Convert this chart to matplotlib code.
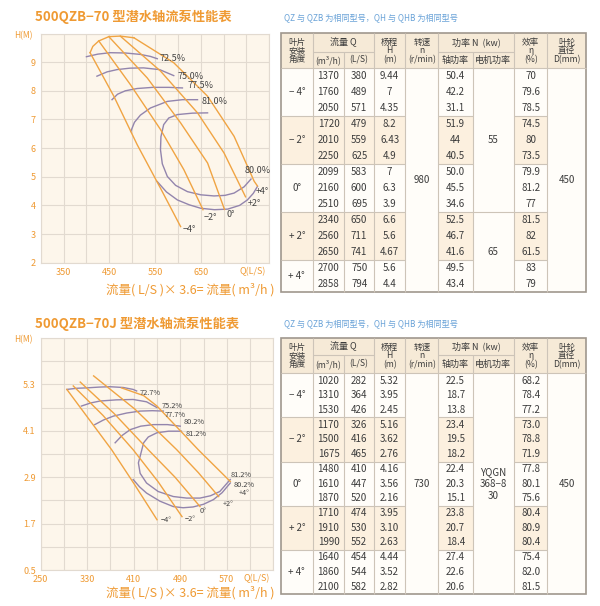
import matplotlib
matplotlib.use('Agg')
import matplotlib.pyplot as plt
from matplotlib.patches import Rectangle

plt.rcParams['font.family'] = ['Noto Sans CJK SC', 'DejaVu Sans']

orange = '#ef9a33'
lineor = '#f0a443'
purple = '#9385ad'
bg = '#fdf6eb'
gridc = '#e2dad0'
txtc = '#3c3c3c'
blue = '#6aa3d8'

# ---------------- 500QZB-70 (n=980) curves, Q in L/S, H in m ----------------
top_arch_q = [408, 414, 427, 449, 474, 504]
top_arch_h = [9.33, 9.55, 9.74, 9.89, 9.91, 9.85]
top_m4_q = [408, 460, 511, 562, 606]
top_m4_h = [9.33, 7.81, 6.12, 4.60, 3.26]
top_m2_q = [427, 496, 562, 613, 655]
top_m2_h = [9.74, 8.22, 6.65, 5.25, 3.85]
top_z0_q = [449, 533, 606, 665, 702]
top_z0_h = [9.89, 8.45, 6.88, 5.48, 3.86]
top_p2_q = [474, 562, 643, 701, 748]
top_p2_h = [9.91, 8.69, 7.23, 5.83, 4.30]
top_p4_q = [504, 591, 665, 723, 767, 774]
top_p4_h = [9.85, 8.98, 7.81, 6.41, 4.84, 4.68]

top_e725_q = [400, 425, 452, 485, 518, 540, 555]
top_e725_h = [9.19, 9.28, 9.33, 9.32, 9.27, 9.20, 9.12]
top_e750_q = [423, 445, 467, 495, 525, 560, 591]
top_e750_h = [8.51, 8.66, 8.74, 8.79, 8.80, 8.74, 8.53]
top_e775_q = [456, 468, 485, 511, 545, 580, 610]
top_e775_h = [7.69, 7.88, 8.00, 8.08, 8.12, 8.12, 8.10]
top_e810_q = [497, 505, 518, 540, 577, 610, 643]
top_e810_h = [6.58, 6.90, 7.15, 7.40, 7.63, 7.69, 7.69]
top_in_q = [665, 632, 599, 580, 569, 563, 562, 566, 577, 595, 621, 650, 679, 703, 723, 745, 760]
top_in_h = [7.23, 7.22, 7.17, 7.05, 6.82, 6.40, 5.94, 5.45, 5.01, 4.70, 4.48, 4.37, 4.33, 4.35, 4.43, 4.65, 4.92]
top_out_q = [555, 575, 599, 625, 650, 680, 709, 735, 752, 765, 774]
top_out_h = [4.83, 4.47, 4.19, 4.02, 3.90, 3.85, 3.87, 4.00, 4.19, 4.42, 4.66]

top_ang_lbl = ['\u22124°', '\u22122°', '0°', '+2°', '+4°']
top_eff_lbl = ['72.5%', '75.0%', '77.5%', '81.0%', '80.0%']

# ---------------- 500QZB-70J (n=730) curves ----------------
bot_m4_q = [295, 333, 372, 411, 450]
bot_m4_h = [5.17, 4.40, 3.61, 2.72, 1.80]
bot_m2_q = [306, 357, 409, 452, 493]
bot_m2_h = [5.26, 4.50, 3.61, 2.78, 1.88]
bot_z0_q = [318, 376, 435, 481, 524]
bot_z0_h = [5.36, 4.55, 3.61, 2.90, 2.14]
bot_p2_q = [341, 412, 484, 521, 556]
bot_p2_h = [5.52, 4.66, 3.61, 3.02, 2.40]
bot_p4_q = [389, 427, 450, 521, 576]
bot_p4_h = [5.21, 5.01, 4.74, 3.61, 2.79]

bot_e727_q = [295, 312, 329, 350, 369, 392, 409, 415]
bot_e727_h = [5.17, 5.20, 5.21, 5.23, 5.24, 5.22, 5.17, 5.13]
bot_e752_q = [320, 336, 352, 380, 409, 432, 450]
bot_e752_h = [4.74, 4.82, 4.87, 4.90, 4.91, 4.85, 4.70]
bot_e777_q = [343, 358, 375, 398, 421, 442, 461]
bot_e777_h = [4.26, 4.38, 4.48, 4.56, 4.61, 4.62, 4.61]
bot_e802_q = [378, 390, 404, 422, 444, 468, 490]
bot_e802_h = [3.79, 3.98, 4.13, 4.22, 4.26, 4.26, 4.22]
bot_in_q = [492, 470, 450, 435, 427, 421, 418, 421, 432, 452, 478, 501, 524, 542, 558, 576]
bot_in_h = [4.09, 4.09, 4.05, 3.94, 3.79, 3.44, 3.27, 3.00, 2.75, 2.53, 2.40, 2.36, 2.36, 2.42, 2.53, 2.84]
bot_out_q = [409, 420, 432, 455, 478, 495, 512, 530, 547, 562, 576]
bot_out_h = [2.84, 2.65, 2.49, 2.28, 2.14, 2.11, 2.13, 2.20, 2.32, 2.50, 2.75]

bot_ang_lbl = ['\u22124°', '\u22122°', '0°', '+2°', '+4°']
bot_eff_lbl = ['72.7%', '75.2%', '77.7%', '80.2%', '81.2%', '81.2%', '80.2%']

# ---------------- tables ----------------
tbl_angles = ['\u2212 4°', '\u2212 2°', '0°', '+ 2°', '+ 4°']

t1_groups = [3, 3, 3, 3, 2]
t1_qm3 = ['1370', '1760', '2050', '1720', '2010', '2250', '2099', '2160', '2510', '2340', '2560', '2650', '2700', '2858']
t1_qls = ['380', '489', '571', '479', '559', '625', '583', '600', '695', '650', '711', '741', '750', '794']
t1_head = ['9.44', '7', '4.35', '8.2', '6.43', '4.9', '7', '6.3', '3.9', '6.6', '5.6', '4.67', '5.6', '4.4']
t1_shaft = ['50.4', '42.2', '31.1', '51.9', '44', '40.5', '50.0', '45.5', '34.6', '52.5', '46.7', '41.6', '49.5', '43.4']
t1_eff = ['70', '79.6', '78.5', '74.5', '80', '73.5', '79.9', '81.2', '77', '81.5', '82', '61.5', '83', '79']
t1_speed = '980'
t1_motor = ['55', '65']
t1_motor_rows = [9, 5]
t1_diam = '450'

t2_groups = [3, 3, 3, 3, 3]
t2_qm3 = ['1020', '1310', '1530', '1170', '1500', '1675', '1480', '1610', '1870', '1710', '1910', '1990', '1640', '1860', '2100']
t2_qls = ['282', '364', '426', '326', '416', '465', '410', '447', '520', '474', '530', '552', '454', '544', '582']
t2_head = ['5.32', '3.95', '2.45', '5.16', '3.62', '2.76', '4.16', '3.56', '2.16', '3.95', '3.10', '2.63', '4.44', '3.52', '2.82']
t2_shaft = ['22.5', '18.7', '13.8', '23.4', '19.5', '18.2', '22.4', '20.3', '15.1', '23.8', '20.7', '18.4', '27.4', '22.6', '20.6']
t2_eff = ['68.2', '78.4', '77.2', '73.0', '78.8', '71.9', '77.8', '80.1', '75.6', '80.4', '80.9', '80.4', '75.4', '82.0', '81.5']
t2_speed = '730'
t2_motor = ['YQGN\n368\u22128\n30']
t2_motor_rows = [15]
t2_diam = '450'

fig = plt.figure(figsize=(6.0, 6.06), dpi=100)
ov = fig.add_axes([0, 0, 1, 1])
ov.set_xlim(0, 600)
ov.set_ylim(606, 0)
ov.axis('off')


def px_axes(l, t, r, b):
    return fig.add_axes([l/600, 1-b/606, (r-l)/600, (b-t)/606])


def setup_chart(ax, xgrid, xlbls, ygrid, ylbls):
    ax.set_facecolor(bg)
    ax.set_xlim(xgrid[0], xgrid[-1])
    ax.set_ylim(ygrid[0], ygrid[-1])
    ax.set_xticks(xgrid)
    ax.set_xticklabels(xlbls)
    ax.set_yticks(ygrid)
    ax.set_yticklabels(ylbls)
    ax.grid(True, color=gridc, lw=0.8)
    ax.set_axisbelow(True)
    ax.tick_params(length=0, labelcolor=orange, labelsize=6.5, pad=3.5)
    for s in ax.spines.values():
        s.set_color(gridc)
        s.set_linewidth(0.8)
    ax.annotate('Q(L/S)', xy=(1, 0), xycoords='axes fraction', xytext=(-3, -9),
                textcoords='offset pixels', ha='right', va='center', color=orange, fontsize=6.5)
    ax.annotate('H(M)', xy=(0, 1), xycoords='axes fraction', xytext=(-8, -2),
                textcoords='offset pixels', ha='right', va='center', color=orange, fontsize=6)


def lbl_at(ax, txt, q, h, dx, dy, fs):
    ax.annotate(txt, xy=(q, h), xytext=(dx, dy), textcoords='offset pixels',
                ha='left', va='center', fontsize=fs, color='#444444')


# ---------------- top chart ----------------
ax1 = px_axes(40.7, 33.5, 269.3, 262.7)
xg = list(range(300, 801, 50))
setup_chart(ax1, xg, ['', '350', '', '450', '', '550', '', '650', '', '', ''],
            list(range(2, 11)), ['2', '3', '4', '5', '6', '7', '8', '9', ''])
for q, h in [(top_e725_q, top_e725_h), (top_e750_q, top_e750_h), (top_e775_q, top_e775_h),
             (top_e810_q, top_e810_h), (top_in_q, top_in_h), (top_out_q, top_out_h)]:
    ax1.plot(q, h, color=purple, lw=1.0)
top_lines = [(top_m4_q, top_m4_h), (top_m2_q, top_m2_h), (top_z0_q, top_z0_h),
             (top_p2_q, top_p2_h), (top_p4_q, top_p4_h)]
ax1.plot(top_arch_q, top_arch_h, color=lineor, lw=1.0)
for q, h in top_lines:
    ax1.plot(q, h, color=lineor, lw=1.0)
ang_off = [(2, -3), (1, -8), (2, -5), (2, -7), (-2, -6)]
for (q, h), t, (dx, dy) in zip(top_lines, top_ang_lbl, ang_off):
    lbl_at(ax1, t, q[-1], h[-1], dx, dy, 6.5)
eff_ends = [(top_e725_q, top_e725_h), (top_e750_q, top_e750_h), (top_e775_q, top_e775_h),
            (top_e810_q, top_e810_h), (top_in_q, top_in_h)]
eff_off = [(2, 0), (4, -1), (5, 2), (4, -2), (-6, 9)]
for (q, h), t, (dx, dy) in zip(eff_ends, top_eff_lbl, eff_off):
    lbl_at(ax1, t, q[-1], h[-1], dx, dy, 6.5)

# ---------------- bottom chart ----------------
ax2 = px_axes(40.7, 338, 273.3, 570)
xg = list(range(250, 651, 40))
setup_chart(ax2, xg, ['250', '', '330', '', '410', '', '490', '', '570', '', ''],
            [0.5 + 0.6*i for i in range(11)],
            ['0.5', '', '1.7', '', '2.9', '', '4.1', '', '5.3', '', ''])
for q, h in [(bot_e727_q, bot_e727_h), (bot_e752_q, bot_e752_h), (bot_e777_q, bot_e777_h),
             (bot_e802_q, bot_e802_h), (bot_in_q, bot_in_h), (bot_out_q, bot_out_h)]:
    ax2.plot(q, h, color=purple, lw=1.0)
bot_lines = [(bot_m4_q, bot_m4_h), (bot_m2_q, bot_m2_h), (bot_z0_q, bot_z0_h),
             (bot_p2_q, bot_p2_h), (bot_p4_q, bot_p4_h)]
for q, h in bot_lines:
    ax2.plot(q, h, color=lineor, lw=1.0)
ang_off = [(4, 0), (3, -2), (0, -4), (4, -7), (8, -12)]
for (q, h), t, (dx, dy) in zip(bot_lines, bot_ang_lbl, ang_off):
    lbl_at(ax2, t, q[-1], h[-1], dx, dy, 5.3)
eff_pts = [(bot_e727_q[-1], bot_e727_h[-1]), (bot_e752_q[-1], bot_e752_h[-1]),
           (bot_e777_q[-1], bot_e777_h[-1]), (bot_e802_q[-1], bot_e802_h[-1]),
           (bot_in_q[0], bot_in_h[0]), (bot_in_q[-1], bot_in_h[-1]), (bot_out_q[-1], bot_out_h[-1])]
eff_off = [(3, -2), (5, 2), (1, -4), (3, 4), (4, -3), (0, 5), (3, -2)]
for (q, h), t, (dx, dy) in zip(eff_pts, bot_eff_lbl, eff_off):
    lbl_at(ax2, t, q, h, dx, dy, 5.3)

# ---------------- titles, notes, axis captions ----------------
ov.text(35, 17, '500QZB\u221270 型潜水轴流泵性能表', color=orange, fontsize=9.5,
        fontweight='bold', va='center', ha='left')
ov.text(35, 324, '500QZB\u221270J 型潜水轴流泵性能表', color=orange, fontsize=9.5,
        fontweight='bold', va='center', ha='left')
for yy in (18, 324):
    ov.text(284, yy, 'QZ 与 QZB 为相同型号，QH 与 QHB 为相同型号', color=blue,
            fontsize=5.9, va='center', ha='left')
for yy in (290, 593):
    ov.text(190, yy, '流量( L/S )× 3.6= 流量( m³/h )', color=orange, fontsize=9,
            va='center', ha='center')
for i, t in enumerate(['500QZB\u221270', 'n=980r/min', 'D=450mm']):
    ov.text(210, 48 + 12.5*i, t, color=orange, fontsize=7.2, va='center', ha='left')
for i, t in enumerate(['500QZB\u221270J', 'n=730r/min', 'D=450mm']):
    ov.text(211.7, 348.3 + 12.2*i, t, color=orange, fontsize=7.2, va='center', ha='left')

# ---------------- tables ----------------
cx = [281, 312.7, 344.3, 374, 405.3, 438.3, 472.7, 514, 547.3, 586]
inner = '#cdc4b8'
outer = '#9f978d'


def hline(y, x0, x1, c=inner, lw=0.8):
    ov.plot([x0, x1], [y, y], color=c, lw=lw, solid_capstyle='butt')


def vline(x, y0, y1, c=inner, lw=0.8):
    ov.plot([x, x], [y0, y1], color=c, lw=lw, solid_capstyle='butt')


def ctext(x, y, t, fs=7, ls=1.1):
    ov.text(x, y, t, ha='center', va='center', fontsize=fs, color=txtc, linespacing=ls)


def draw_table(top, mid, hb, rh, groups, qm3, qls, head, shaft, eff, speed, motor, motor_rows, diam):
    n = sum(groups)
    bot = hb + n*rh
    ov.add_patch(Rectangle((cx[0], top), cx[-1]-cx[0], bot-top, fc='#fffdf9', ec='none'))
    ov.add_patch(Rectangle((cx[0], top), cx[-1]-cx[0], hb-top, fc='#f6ead7', ec='none'))
    # shading of alternate groups
    r0 = 0
    bounds = []
    for gi, g in enumerate(groups):
        y0 = hb + r0*rh
        y1 = hb + (r0+g)*rh
        if gi % 2 == 1:
            for c in [0, 1, 2, 3, 5, 7]:
                ov.add_patch(Rectangle((cx[c], y0), cx[c+1]-cx[c], y1-y0, fc='#fcf0df', ec='none'))
        ctext((cx[0]+cx[1])/2, (y0+y1)/2, tbl_angles[gi], fs=7)
        r0 += g
        bounds.append(r0)
    # motor boundaries
    mb = []
    acc = 0
    for k in motor_rows:
        acc += k
        mb.append(acc)
    for b in bounds[:-1]:
        y = hb + b*rh
        hline(y, cx[0], cx[4])
        hline(y, cx[5], cx[6])
        hline(y, cx[7], cx[8])
        if b in mb:
            hline(y, cx[6], cx[7])
    hline(hb, cx[0], cx[-1])
    hline(mid, cx[1], cx[3])
    hline(mid, cx[5], cx[7])
    for k in [1, 3, 4, 5, 7, 8]:
        vline(cx[k], top, bot)
    for k in [2, 6]:
        vline(cx[k], mid, bot)
    ov.add_patch(Rectangle((cx[0], top), cx[-1]-cx[0], bot-top, fc='none', ec=outer, lw=1.2))
    # header texts
    hc = (top+hb)/2
    hs = 6.2
    ctext((cx[0]+cx[1])/2, hc, '叶片\n安装\n角度', fs=hs, ls=0.95)
    ctext((cx[1]+cx[3])/2, (top+mid)/2, '流量 Q', fs=hs+0.3)
    ctext((cx[1]+cx[2])/2, (mid+hb)/2, '(m³/h)', fs=hs)
    ctext((cx[2]+cx[3])/2, (mid+hb)/2, '(L/S)', fs=hs)
    ctext((cx[3]+cx[4])/2, hc, '杨程\nH\n(m)', fs=hs, ls=0.95)
    ctext((cx[4]+cx[5])/2, hc, '转速\nn\n(r/min)', fs=hs, ls=0.95)
    ctext((cx[5]+cx[7])/2, (top+mid)/2, '功率 N  (kw)', fs=hs+0.3)
    ctext((cx[5]+cx[6])/2, (mid+hb)/2, '轴功率', fs=hs+0.3)
    ctext((cx[6]+cx[7])/2, (mid+hb)/2, '电机功率', fs=hs+0.3)
    ctext((cx[7]+cx[8])/2, hc, '效率\nη\n(%)', fs=hs, ls=0.95)
    ctext((cx[8]+cx[9])/2, hc, '叶轮\n直径\nD(mm)', fs=hs, ls=0.95)
    # body
    for i in range(n):
        y = hb + (i+0.5)*rh
        ctext((cx[1]+cx[2])/2, y, qm3[i])
        ctext((cx[2]+cx[3])/2, y, qls[i])
        ctext((cx[3]+cx[4])/2, y, head[i])
        ctext((cx[5]+cx[6])/2, y, shaft[i])
        ctext((cx[7]+cx[8])/2, y, eff[i])
    ctext((cx[4]+cx[5])/2, (hb+bot)/2, speed)
    ctext((cx[8]+cx[9])/2, (hb+bot)/2, diam)
    r0 = 0
    for t, k in zip(motor, motor_rows):
        ctext((cx[6]+cx[7])/2, hb + (r0 + k/2)*rh, t, ls=1.25)
        r0 += k


draw_table(33.3, 51.7, 68.3, 15.96, t1_groups, t1_qm3, t1_qls, t1_head, t1_shaft, t1_eff,
           t1_speed, t1_motor, t1_motor_rows, t1_diam)
draw_table(338.3, 355, 373.3, 14.71, t2_groups, t2_qm3, t2_qls, t2_head, t2_shaft, t2_eff,
           t2_speed, t2_motor, t2_motor_rows, t2_diam)

fig.savefig('out.png', dpi=100)
